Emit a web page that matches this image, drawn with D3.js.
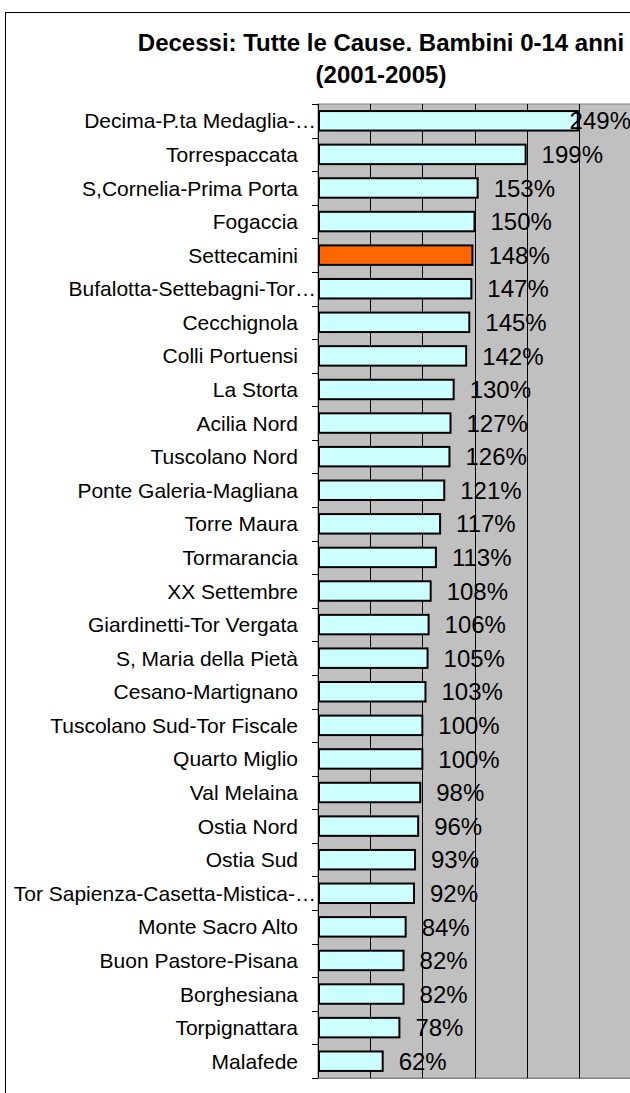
<!DOCTYPE html>
<html>
<head>
<meta charset="utf-8">
<script src="https://cdn.jsdelivr.net/npm/d3@7"></script>
<style>
  body { margin: 0; background: #fff; }
  svg { display: block; font-family: "Liberation Sans", Arial, sans-serif; }
</style>
</head>
<body>
<svg></svg>
<script>
// zone names as shown on the chart (long ones cut off with an ellipsis)
let zones = [
    "Decima-P.ta Medaglia-…", "Torrespaccata", "S,Cornelia-Prima Porta", "Fogaccia",
    "Settecamini", "Bufalotta-Settebagni-Tor…", "Cecchignola", "Colli Portuensi",
    "La Storta", "Acilia Nord", "Tuscolano Nord", "Ponte Galeria-Magliana",
    "Torre Maura", "Tormarancia", "XX Settembre", "Giardinetti-Tor Vergata",
    "S, Maria della Pietà", "Cesano-Martignano", "Tuscolano Sud-Tor Fiscale",
    "Quarto Miglio", "Val Melaina", "Ostia Nord", "Ostia Sud",
    "Tor Sapienza-Casetta-Mistica-…", "Monte Sacro Alto", "Buon Pastore-Pisana",
    "Borghesiana", "Torpignattara", "Malafede"
];
let ratios = [249, 199, 153, 150, 148, 147, 145, 142, 130, 127, 126, 121, 117, 113,
    108, 106, 105, 103, 100, 100, 98, 96, 93, 92, 84, 82, 82, 78, 62];
let xTicks = [0, 50, 100, 150, 200, 250, 300];
let highlight = "Settecamini";
let title = ["Decessi: Tutte le Cause. Bambini 0-14 anni", "(2001-2005)"];

let dataset = zones.map(function (z, i) { return { zone: z, value: ratios[i] }; });

drawChart(dataset);

function drawChart(dataset) {
    let svgWidth = 630, svgHeight = 1093;
    let margin = { top: 104, left: 318 };
    let width = 313, height = 974;

    let svg = d3.select("svg")
        .attr("width", svgWidth)
        .attr("height", svgHeight);

    // outer chart frame (runs off the right and bottom of the picture)
    svg.append("rect")
        .attr("x", 5.5).attr("y", 12.5)
        .attr("width", 700).attr("height", 1200)
        .attr("fill", "#fff")
        .attr("stroke", "#000");

    let t = svg.append("text")
        .attr("x", 381).attr("y", 51)
        .attr("text-anchor", "middle")
        .attr("font-weight", "bold")
        .attr("font-size", 24)
        .attr("fill", "#000");
    t.selectAll("tspan").data(title).enter().append("tspan")
        .attr("x", 381)
        .attr("dy", function (d, i) { return i ? 32 : 0; })
        .text(function (d) { return d; });

    let g = svg.append("g")
        .attr("transform", "translate(" + margin.left + "," + margin.top + ")");

    let x = d3.scaleLinear()
        .domain(d3.extent(xTicks))
        .range([0, width]);

    let y = d3.scaleBand()
        .domain(zones)
        .range([0, height])
        .paddingInner(0.42)
        .paddingOuter(0.21);

    g.append("rect")
        .attr("width", width).attr("height", height)
        .attr("fill", "#c0c0c0")
        .attr("stroke", "#808080");

    // vertical gridlines
    g.append("g")
        .selectAll("line")
        .data(xTicks.slice(1, -1))
        .enter().append("line")
        .attr("x1", function (d) { return Math.round(x(d)) + 0.5; })
        .attr("x2", function (d) { return Math.round(x(d)) + 0.5; })
        .attr("y1", 0).attr("y2", height)
        .attr("stroke", "#000");

    // bottom axis line across the plot
    g.append("line")
        .attr("x1", -6).attr("x2", width)
        .attr("y1", height + 0.5).attr("y2", height + 0.5)
        .attr("stroke", "#808080");

    // category tick marks at the band boundaries
    let step = y.step();
    g.append("g")
        .selectAll("line")
        .data(d3.range(zones.length + 1))
        .enter().append("line")
        .attr("x1", -6).attr("x2", 0)
        .attr("y1", function (i) { return Math.round(i * step) + 0.5; })
        .attr("y2", function (i) { return Math.round(i * step) + 0.5; })
        .attr("stroke", "#000");

    g.append("line")
        .attr("x1", 0.5).attr("x2", 0.5)
        .attr("y1", 0).attr("y2", height)
        .attr("stroke", "#000");

    g.append("g")
        .selectAll("rect")
        .data(dataset)
        .enter().append("rect")
        .attr("x", x(0) + 1)
        .attr("y", function (d) { return y(d.zone); })
        .attr("width", function (d) { return x(d.value) - x(0) - 1; })
        .attr("height", y.bandwidth())
        .attr("fill", function (d) { return d.zone == highlight ? "#ff6600" : "#ccffff"; })
        .attr("stroke", "#000")
        .attr("stroke-width", 2);

    // zone names
    g.append("g")
        .selectAll("text")
        .data(dataset)
        .enter().append("text")
        .attr("x", function (d) { return d.zone.endsWith("…") ? -2 : -20; })
        .attr("y", function (d) { return y(d.zone) + y.bandwidth() / 2; })
        .attr("dy", "0.36em")
        .attr("text-anchor", "end")
        .attr("font-size", 21)
        .attr("fill", "#000")
        .text(function (d) { return d.zone; });

    // value labels, pushed back inside when they would run off the plot
    let labels = g.append("g")
        .selectAll("text")
        .data(dataset)
        .enter().append("text")
        .attr("y", function (d) { return y(d.zone) + y.bandwidth() / 2; })
        .attr("dy", "0.36em")
        .attr("font-size", 24)
        .attr("fill", "#000")
        .text(function (d) { return d.value + "%"; });
    labels.attr("x", function (d) {
        let w = this.getComputedTextLength();
        return Math.min(x(d.value) + 16, width - w);
    });
}
</script>
</body>
</html>
